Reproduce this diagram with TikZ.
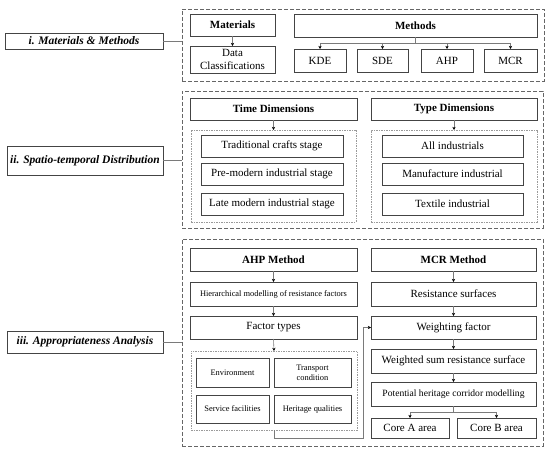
\documentclass[tikz,border=0pt]{standalone}
\usepackage{fontspec}
\setmainfont{Liberation Serif}
\usetikzlibrary{arrows.meta}
\definecolor{boxc}{HTML}{444444}
\definecolor{linec}{HTML}{7A7A7A}
\definecolor{dashc}{HTML}{666666}
\definecolor{dotc}{HTML}{9A9A9A}
\tikzset{
  bx/.style={draw=boxc, line width=0.9pt, inner sep=0pt, outer sep=0pt, align=center, font=\fontsize{11}{12.5}\selectfont},
  bxb/.style={bx, font=\fontsize{11}{12.5}\selectfont\bfseries},
  bxs/.style={bx, font=\fontsize{8.4}{10}\selectfont},
  lab/.style={bx, font=\fontsize{11.5}{13}\selectfont\bfseries\itshape},
  sec/.style={draw=dashc, line width=0.9pt, dash pattern=on 4pt off 2pt, inner sep=0pt, outer sep=0pt},
  grp/.style={draw=dotc, line width=0.5pt, dash pattern=on 1.5pt off 1pt, inner sep=0pt, outer sep=0pt},
  conn/.style={draw=linec, line width=0.6pt},
  arr/.style={conn, -{Stealth[length=3.2pt,width=3.2pt,black]}},
}
\begin{document}
\begin{tikzpicture}[x=1pt,y=-1pt]
\useasboundingbox (0,0) rectangle (550,452);
% ---------- Section i
\node[sec, minimum width=362pt, minimum height=72pt] (secI) at (363,45) {};
\node[lab, minimum width=158pt, minimum height=16pt] (labI) at (84,41) {i. Materials \& Methods};
\node[bxb, minimum width=85pt, minimum height=22pt] (mat) at (232.5,25) {Materials};
\node[bx, minimum width=85pt, minimum height=27pt] (data) at (232.5,59.5) {Data\\Classifications};
\node[bxb, minimum width=243pt, minimum height=23pt] (meth) at (415.5,25.5) {Methods};
\node[bx, minimum width=52pt, minimum height=23pt] (kde) at (320,60.5) {KDE};
\node[bx, minimum width=51pt, minimum height=23pt] (sde) at (382.5,60.5) {SDE};
\node[bx, minimum width=52pt, minimum height=23pt] (ahp) at (447,60.5) {AHP};
\node[bx, minimum width=53pt, minimum height=23pt] (mcr) at (510.5,60.5) {MCR};
\coordinate (hI) at (415.5,43);
\draw[conn] (labI.east) -- (labI.east -| secI.west);
\draw[arr] (mat.south) -- (data.north);
\draw[conn] (meth.south) -- (meth.south |- hI);
\draw[conn] (kde.north |- hI) -- (mcr.north |- hI);
\foreach \n in {kde,sde,ahp,mcr} \draw[arr] (\n.north |- hI) -- (\n.north);
% ---------- Section ii
\node[sec, minimum width=361pt, minimum height=137pt] (secII) at (362.5,159.5) {};
\node[lab, minimum width=156pt, minimum height=29pt] (labII) at (85,160.5) {ii. Spatio-temporal Distribution};
\node[bxb, minimum width=167pt, minimum height=22pt] (time) at (273.5,109) {Time Dimensions};
\node[grp, minimum width=165pt, minimum height=92pt] (tdot) at (273.5,176) {};
\node[bx, minimum width=142pt, minimum height=22pt] (trad) at (272,146) {Traditional crafts stage};
\node[bx, minimum width=142pt, minimum height=22pt] (pre) at (272,174) {Pre-modern industrial stage};
\node[bx, minimum width=142pt, minimum height=22pt] (late) at (272,204) {Late modern industrial stage};
\node[bxb, minimum width=166pt, minimum height=22pt] (type) at (454,109) {Type Dimensions};
\node[grp, minimum width=166pt, minimum height=92pt] (ydot) at (454,176) {};
\node[bx, minimum width=141pt, minimum height=22pt] (all) at (452.5,146) {All industrials};
\node[bx, minimum width=141pt, minimum height=22pt] (manu) at (452.5,174) {Manufacture industrial};
\node[bx, minimum width=141pt, minimum height=22pt] (tex) at (452.5,204) {Textile industrial};
\draw[conn] (labII.east) -- (labII.east -| secII.west);
\draw[arr] (time.south) -- (tdot.north);
\draw[arr] (type.south) -- (ydot.north);
% ---------- Section iii
\node[sec, minimum width=361pt, minimum height=207pt] (secIII) at (362.5,342.5) {};
\node[lab, minimum width=156pt, minimum height=22pt] (labIII) at (85,342) {iii. Appropriateness Analysis};
\node[bxb, minimum width=167pt, minimum height=23pt] (ahpm) at (273.5,259.5) {AHP Method};
\node[bxs, minimum width=167pt, minimum height=24pt] (hier) at (273.5,294) {Hierarchical modelling of resistance factors};
\node[bx, minimum width=167pt, minimum height=23pt] (fact) at (273.5,327.5) {Factor types};
\node[grp, minimum width=166pt, minimum height=79pt] (fdot) at (274,390.5) {};
\node[bxs, minimum width=73pt, minimum height=29pt] (env) at (232.5,372.5) {Environment};
\node[bxs, minimum width=77pt, minimum height=29pt] (trans) at (312.5,372.5) {Transport\\condition};
\node[bxs, minimum width=73pt, minimum height=28pt] (serv) at (232.5,409) {Service facilities};
\node[bxs, minimum width=77pt, minimum height=28pt] (her) at (312.5,409) {Heritage qualities};
\node[bxb, minimum width=165pt, minimum height=23pt] (mcrm) at (453.5,259.5) {MCR Method};
\node[bx, minimum width=165pt, minimum height=24pt] (res) at (453.5,294) {Resistance surfaces};
\node[bx, minimum width=165pt, minimum height=23pt] (wf) at (453.5,327.5) {Weighting factor};
\node[bx, minimum width=165pt, minimum height=24pt] (ws) at (453.5,361) {Weighted sum resistance surface};
\node[bx, minimum width=165pt, minimum height=24pt, font=\fontsize{9.6}{11}\selectfont] (pot) at (453.5,394) {Potential heritage corridor modelling};
\node[bx, minimum width=78pt, minimum height=20pt] (ca) at (410,428) {Core A area};
\node[bx, minimum width=79pt, minimum height=20pt] (cb) at (496.5,428) {Core B area};
\coordinate (loopY) at (273,438);
\coordinate (loopX) at (363,438);
\coordinate (hIII) at (453.5,412);
\draw[conn] (labIII.east) -- (labIII.east -| secIII.west);
\draw[arr] (ahpm.south) -- (hier.north);
\draw[arr] (hier.south) -- (fact.north);
\draw[arr] (fact.south) -- (fdot.north);
\draw[arr] (fdot.south) -- (fdot.south |- loopY) -- (loopX) -- (loopX |- wf.west) -- (wf.west);
\draw[arr] (mcrm.south) -- (res.north);
\draw[arr] (res.south) -- (wf.north);
\draw[arr] (wf.south) -- (ws.north);
\draw[arr] (ws.south) -- (pot.north);
\draw[conn] (pot.south) -- (hIII);
\draw[conn] (ca.north |- hIII) -- (cb.north |- hIII);
\draw[arr] (ca.north |- hIII) -- (ca.north);
\draw[arr] (cb.north |- hIII) -- (cb.north);
\end{tikzpicture}
\end{document}
